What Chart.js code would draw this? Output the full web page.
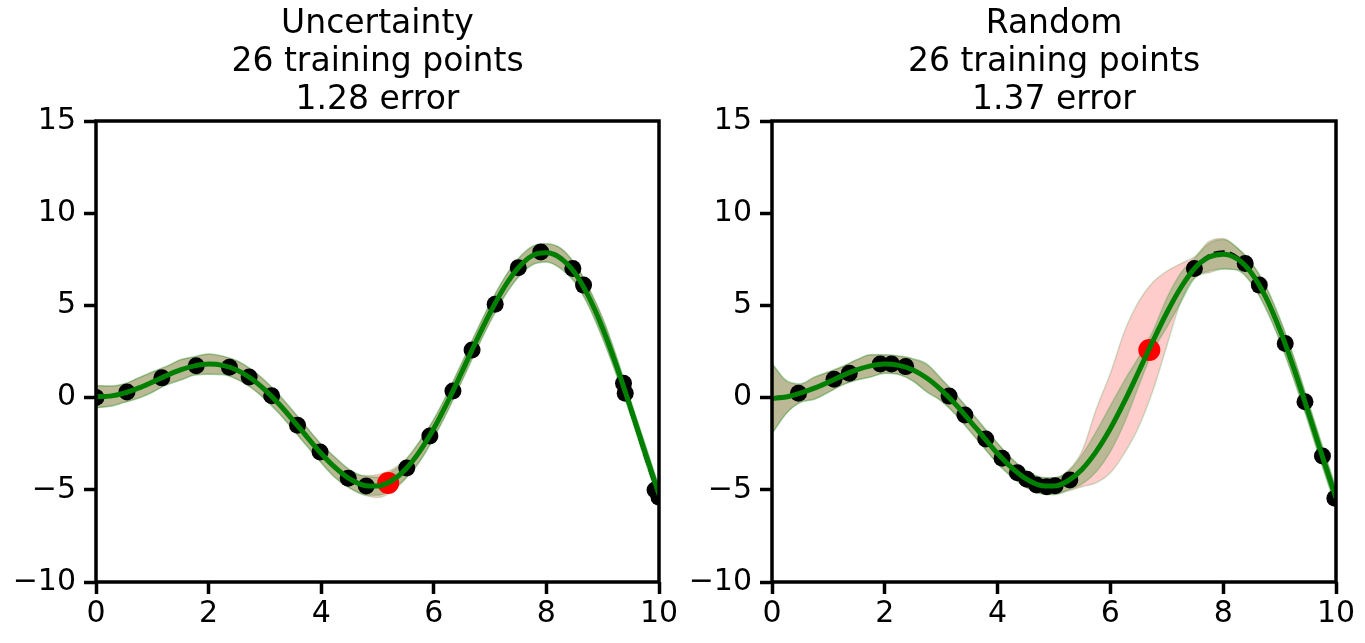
<!DOCTYPE html>
<html><head><meta charset="utf-8">
<script src="https://cdn.jsdelivr.net/npm/chart.js@4.4.1/dist/chart.umd.min.js"></script>
<style>
html,body{margin:0;padding:0;background:#fff;}
#wrap{position:relative;width:1365px;height:643px;}
canvas{position:absolute;top:0;}
</style></head><body>
<div id="wrap">
<canvas id="c1" width="682" height="643" style="left:0"></canvas>
<canvas id="c2" width="683" height="643" style="left:682px"></canvas>
</div>
<script>
// ---- data ----
const xs = [0,0.25,0.5,0.75,1,1.25,1.5,1.75,2,2.25,2.5,2.75,3,3.25,3.5,3.75,4,4.25,4.5,4.75,5,5.25,5.5,5.75,6,6.25,6.5,6.75,7,7.25,7.5,7.75,8,8.25,8.5,8.75,9,9.25,9.5,9.75,10];
const trueY = [0,0.062,0.240,0.511,0.841,1.186,1.496,1.722,1.819,1.751,1.496,1.050,0.423,-0.352,-1.228,-2.143,-3.027,-3.804,-4.399,-4.747,-4.795,-4.509,-3.880,-2.923,-1.676,-0.207,1.398,3.038,4.599,5.969,7.035,7.708,7.915,7.613,6.787,5.466,3.709,1.612,-0.714,-3.115,-5.440];

// Uncertainty panel
const uncTitle = ['Uncertainty', '26 training points', '1.28 error'];
const uncMean = [0.05,0.08,0.24,0.51,0.84,1.19,1.50,1.72,1.82,1.75,1.50,1.05,0.42,-0.35,-1.23,-2.14,-3.03,-3.80,-4.40,-4.75,-4.80,-4.51,-3.88,-2.92,-1.68,-0.21,1.40,3.04,4.60,5.97,7.03,7.70,7.85,7.56,6.78,5.47,3.75,1.68,-0.60,-2.95,-5.25];
const uncBand = [0.6,0.55,0.5,0.55,0.55,0.5,0.55,0.5,0.55,0.5,0.5,0.5,0.5,0.5,0.5,0.5,0.5,0.55,0.5,0.5,0.5,0.5,0.5,0.55,0.5,0.5,0.5,0.5,0.5,0.5,0.5,0.5,0.5,0.55,0.5,0.5,0.55,0.5,0.4,0.45,0.4];
const uncPrevUp = [0.6,0.55,0.5,0.55,0.55,0.5,0.55,0.5,0.55,0.5,0.5,0.5,0.5,0.5,0.5,0.5,0.5,0.55,0.5,0.52,0.62,0.6,0.52,0.55,0.5,0.5,0.5,0.5,0.5,0.5,0.5,0.5,0.5,0.55,0.5,0.5,0.55,0.5,0.4,0.45,0.4];
const uncPrevDn = [0.6,0.55,0.5,0.55,0.55,0.5,0.55,0.5,0.55,0.5,0.5,0.5,0.5,0.5,0.5,0.5,0.5,0.55,0.5,0.52,0.62,0.6,0.52,0.55,0.5,0.5,0.5,0.5,0.5,0.5,0.5,0.5,0.5,0.55,0.5,0.5,0.55,0.5,0.4,0.45,0.4];
const uncPtsX = [0,0.55,1.17,1.78,2.37,2.72,3.12,3.58,3.98,4.48,4.80,5.52,5.93,6.34,6.68,7.09,7.50,7.90,8.47,8.66,9.37,9.40,9.93,10.0];
const uncPtsY = [0,0.30,1.07,1.73,1.65,1.12,0.10,-1.50,-2.95,-4.37,-4.79,-3.82,-2.08,0.36,2.58,5.06,7.04,7.90,7.0,6.10,0.78,0.23,-5.01,-5.40];
const uncNewX = [5.19];
const uncNewY = [-4.63];

// Random panel
const rndTitle = ['Random', '26 training points', '1.37 error'];
const rndMean = [-0.05,0.03,0.24,0.51,0.84,1.19,1.50,1.72,1.82,1.75,1.50,1.05,0.42,-0.35,-1.23,-2.14,-3.03,-3.80,-4.40,-4.75,-4.80,-4.51,-3.88,-2.92,-1.68,-0.21,1.40,3.04,4.60,5.97,7.03,7.62,7.78,7.52,6.76,5.47,3.71,1.61,-0.71,-3.11,-5.44];
const rndBand = [1.9,0.9,0.5,0.6,0.55,0.5,0.55,0.6,0.5,0.5,0.6,0.75,0.6,0.55,0.55,0.55,0.55,0.5,0.45,0.45,0.45,0.5,0.8,1.1,1.25,1.15,0.8,0.55,0.8,0.8,0.55,0.75,0.8,0.6,0.55,0.6,0.6,0.6,0.55,0.55,0.5];
const rndPrevUp = [1.9,0.9,0.5,0.6,0.55,0.5,0.55,0.6,0.5,0.5,0.6,0.75,0.6,0.55,0.55,0.55,0.55,0.5,0.45,0.45,0.45,0.55,1.0,2.3,3.0,3.8,3.8,3.2,2.25,1.3,0.62,0.85,0.85,0.6,0.55,0.6,0.6,0.6,0.55,0.55,0.5];
const rndPrevDn = [1.9,0.9,0.5,0.6,0.55,0.5,0.55,0.6,0.5,0.5,0.6,0.75,0.6,0.55,0.55,0.55,0.55,0.5,0.45,0.45,0.45,0.55,0.95,1.7,2.4,2.8,3.0,2.7,1.8,0.75,0.5,0.85,0.8,0.6,0.55,0.6,0.6,0.6,0.55,0.55,0.5];
const rndPtsX = [0.47,1.10,1.37,1.92,2.12,2.37,3.14,3.42,3.79,4.08,4.35,4.52,4.69,4.87,5.02,5.28,7.49,8.39,8.64,9.10,9.45,9.76,9.98];
const rndPtsY = [0.23,0.99,1.32,1.82,1.82,1.68,0.08,-0.94,-2.24,-3.29,-4.07,-4.43,-4.74,-4.83,-4.78,-4.47,7.00,7.27,6.10,2.94,-0.22,-3.17,-5.46];
const rndNewX = [6.69];
const rndNewY = [2.58];

const yTicks = [-10,-5,0,5,10,15];
const xTicks = [0,2,4,6,8,10];

// ---- chart building ----
const FONT = '"DejaVu Sans", sans-serif';
function pts(xa, ya){ return xa.map((x,i)=>({x:x, y:ya[i]})); }

const framePlugin = {
  id: 'frame',
  afterDraw(chart, args, opts){
    const {ctx, chartArea:a} = chart;
    ctx.save();
    ctx.strokeStyle = '#000';
    ctx.lineWidth = 3.5;
    ctx.strokeRect(a.left, a.top, a.right - a.left, a.bottom - a.top);
    ctx.fillStyle = '#000';
    ctx.font = '33px ' + FONT;
    ctx.textAlign = 'center';
    ctx.textBaseline = 'middle';
    const cx = (a.left + a.right) / 2;
    opts.lines.forEach((t,i)=> ctx.fillText(t, cx, 24 + i*38));
    ctx.restore();
  }
};

function makeChart(id, title, yw, padR, mean, band, prevUp, prevDn, px, py, nx, ny){
  const edge = 'rgba(0,128,0,0.2)';
  const datasets = [
    { data: xs.map((x,i)=>({x, y: mean[i] + prevUp[i]})), borderColor: edge, borderWidth: 1.5, fill: false, order: 10 },
    { data: xs.map((x,i)=>({x, y: mean[i] - prevDn[i]})), borderColor: edge, borderWidth: 1.5, fill: 0, backgroundColor: 'rgba(255,0,0,0.2)', order: 9 },
    { data: xs.map((x,i)=>({x, y: mean[i] + band[i]})), borderColor: edge, borderWidth: 1.5, fill: false, order: 8 },
    { data: xs.map((x,i)=>({x, y: mean[i] - band[i]})), borderColor: edge, borderWidth: 1.5, fill: 2, backgroundColor: 'rgba(0,128,0,0.27)', order: 7 },
    { type: 'scatter', data: pts(px, py), pointRadius: 8.5, backgroundColor: '#000', borderWidth: 0, showLine: false, order: 4 },
    { type: 'scatter', data: pts(nx, ny), pointRadius: 11, backgroundColor: '#ff0000', borderWidth: 0, showLine: false, order: 3 },
    { data: pts(xs, trueY), borderColor: '#000', borderWidth: 3, borderDash: [11,5], fill: false, order: 2 },
    { data: pts(xs, mean), borderColor: '#008000', borderWidth: 5, fill: false, order: 1 }
  ];
  datasets.forEach(d => {
    d.clip = 0;
    if (!d.type) { d.type = 'line'; d.pointRadius = 0; d.cubicInterpolationMode = 'monotone'; }
  });
  const tickFont = { family: FONT, size: 30 };
  return new Chart(document.getElementById(id), {
    type: 'line',
    data: { datasets },
    plugins: [framePlugin],
    options: {
      responsive: false,
      animation: false,
      devicePixelRatio: 1,
      layout: { padding: { top: 121, right: padR, left: 0, bottom: 0 } },
      plugins: { legend: { display: false }, tooltip: { enabled: false }, frame: { lines: title } },
      scales: {
        x: {
          type: 'linear', min: 0, max: 10,
          afterBuildTicks: s => { s.ticks = xTicks.map(v => ({value: v})); },
          ticks: { font: tickFont, color: '#000', padding: 2, maxRotation: 0, autoSkip: false },
          grid: { display: true, drawOnChartArea: false, drawTicks: true, tickLength: 12, tickWidth: 3.5, tickColor: '#000', color: '#000' },
          border: { display: false },
          afterFit: s => { s.height = 61; }
        },
        y: {
          type: 'linear', min: -10, max: 15,
          afterBuildTicks: s => { s.ticks = yTicks.map(v => ({value: v})); },
          ticks: { font: tickFont, color: '#000', padding: 8, autoSkip: false,
                   callback: v => String(v).replace('-', '\u2212') },
          grid: { display: true, drawOnChartArea: false, drawTicks: true, tickLength: 12, tickWidth: 3.5, tickColor: '#000', color: '#000' },
          border: { display: false },
          afterFit: s => { s.width = yw; }
        }
      }
    }
  });
}

makeChart('c1', uncTitle, 96, 23, uncMean, uncBand, uncPrevUp, uncPrevDn, uncPtsX, uncPtsY, uncNewX, uncNewY);
makeChart('c2', rndTitle, 90, 29, rndMean, rndBand, rndPrevUp, rndPrevDn, rndPtsX, rndPtsY, rndNewX, rndNewY);
</script>
</body></html>
